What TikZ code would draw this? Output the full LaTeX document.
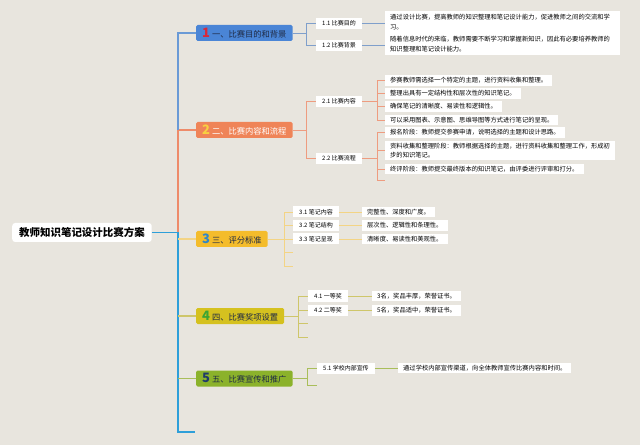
\documentclass[tikz,border=0pt]{standalone}
\usepackage{fontspec}
\setmainfont{Noto Sans CJK SC}
\usetikzlibrary{positioning}
\definecolor{bgpaper}{HTML}{E8E5DE}
\definecolor{boxA}{HTML}{4A85D6}
\definecolor{boxB}{HTML}{EF8458}
\definecolor{boxC}{HTML}{F4BC2B}
\definecolor{boxD}{HTML}{D5C11F}
\definecolor{boxE}{HTML}{8BB22B}
\definecolor{lineA}{HTML}{7F9FCB}
\definecolor{lineB}{HTML}{EE9C80}
\definecolor{lineC}{HTML}{F3D485}
\definecolor{lineD}{HTML}{CEC66A}
\definecolor{lineE}{HTML}{A9BE5A}
\definecolor{trunkA}{HTML}{6A9AD6}
\definecolor{trunkB}{HTML}{EE8B6A}
\definecolor{trunkC}{HTML}{2E9FD9}
\definecolor{numA}{HTML}{D8283A}
\definecolor{numB}{HTML}{F8D040}
\definecolor{numC}{HTML}{2E86C8}
\definecolor{numD}{HTML}{3BA534}
\definecolor{numE}{HTML}{1F3A6A}
\definecolor{darktext}{HTML}{1F2A44}

\begin{document}
\begin{tikzpicture}[x=1bp, y=-1bp,
  every node/.style={inner sep=0pt},
  root/.style={fill=white, rounded corners=3bp, anchor=west, minimum height=19bp,
    inner xsep=7bp, font=\bfseries\fontsize{10.5}{12}\selectfont},
  topic/.style={rounded corners=1.5bp, anchor=west, minimum height=16bp,
    inner xsep=6bp, font=\fontsize{8.3}{9}\selectfont, text=darktext},
  sub/.style={fill=white, anchor=west, minimum height=11bp, inner xsep=6bp,
    font=\fontsize{6}{7}\selectfont},
  leaf/.style={fill=white, anchor=west, align=left, minimum height=10.5bp,
    inner xsep=5bp, inner ysep=1.5bp, font=\fontsize{6.3}{9.5}\selectfont},
  trunk/.style={line width=1.6bp},
  twig/.style={line width=0.7bp}]
  \useasboundingbox[fill=bgpaper] (0,0) rectangle (640,445);

  % root and trunk
  \node[root] (root) at (12,232.5) {教师知识笔记设计比赛方案};
  \coordinate (j)  at (178,232.5);
  \coordinate (j2) at (178,130);
  \coordinate (jb) at (178,432);
  \coordinate (tail) at (195,432);

  % main topics
  \node[topic, fill=boxA] (t1) at (196,33)
    {\textcolor{numA}{\bfseries\fontsize{13}{13}\selectfont 1}\hspace{2bp}一、比赛目的和背景};
  \node[topic, fill=boxB, text=white] (t2) at (196,130)
    {\textcolor{numB}{\bfseries\fontsize{13}{13}\selectfont 2}\hspace{2bp}二、比赛内容和流程};
  \node[topic, fill=boxC] (t3) at (196,239)
    {\textcolor{numC}{\bfseries\fontsize{13}{13}\selectfont 3}\hspace{2bp}三、评分标准};
  \node[topic, fill=boxD] (t4) at (196,316)
    {\textcolor{numD}{\bfseries\fontsize{13}{13}\selectfont 4}\hspace{2bp}四、比赛奖项设置};
  \node[topic, fill=boxE] (t5) at (196,378.5)
    {\textcolor{numE}{\bfseries\fontsize{13}{13}\selectfont 5}\hspace{2bp}五、比赛宣传和推广};

  \draw[trunk, trunkC] (root.east) -- (j) -- (jb) -- (tail);
  \draw[trunk, trunkB] (j) -- (j2) -- (t2.west);
  \draw[trunk, trunkA] (j2) |- (t1.west);
  \draw[trunk, lineC] (j |- t3.west) -- (t3.west);
  \draw[trunk, lineD] (j |- t4.west) -- (t4.west);
  \draw[trunk, lineE] (j |- t5.west) -- (t5.west);

  % 1
  \node[sub] (s11) at (316,23.5) {1.1 比赛目的};
  \node[sub] (s12) at (316,45.5) {1.2 比赛背景};
  \node[leaf, text width=225bp, minimum height=22bp] (l11) at (385,22)
    {通过设计比赛，提高教师的知识整理和笔记设计能力，促进教师之间的交流和学\\习。};
  \node[leaf, text width=225bp, minimum height=22bp] (l12) at (385,44)
    {随着信息时代的来临，教师需要不断学习和掌握新知识，因此有必要培养教师的\\知识整理和笔记设计能力。};
  \coordinate (f1) at (306,33);
  \draw[twig, lineA] (t1.east) -- (f1) |- (s11.west) (f1) |- (s12.west);
  \draw[twig, lineA] (s11.east) -- (s11.east -| l11.west)
                     (s12.east) -- (s12.east -| l12.west);

  % 2
  \node[sub] (s21) at (316,101.5) {2.1 比赛内容};
  \node[sub] (s22) at (316,158.5) {2.2 比赛流程};
  \node[leaf] (l2a) at (385,80.5) {参赛教师需选择一个特定的主题，进行资料收集和整理。};
  \node[leaf] (l2b) at (385,93.5) {整理出具有一定结构性和层次性的知识笔记。};
  \node[leaf] (l2c) at (385,106.5) {确保笔记的清晰度、易读性和逻辑性。};
  \node[leaf] (l2d) at (385,120) {可以采用图表、示意图、思维导图等方式进行笔记的呈现。};
  \node[leaf] (l2e) at (385,132.5) {报名阶段：教师提交参赛申请，说明选择的主题和设计思路。};
  \node[leaf] (l2f) at (385,150.5)
    {资料收集和整理阶段：教师根据选择的主题，进行资料收集和整理工作，形成初\\步的知识笔记。};
  \node[leaf] (l2g) at (385,169) {终评阶段：教师提交最终版本的知识笔记，由评委进行评审和打分。};
  \coordinate (f2) at (306,130);
  \coordinate (f21) at (377,101.5);
  \coordinate (f22) at (377,158.5);
  \coordinate (x21) at (385,180);
  \draw[twig, lineB] (t2.east) -- (f2) |- (s21.west) (f2) |- (s22.west);
  \draw[twig, lineB] (s21.east) -- (f21) (s22.east) -- (f22);
  \foreach \n in {a,b,c,d} \draw[twig, lineB] (f21) |- (l2\n.west);
  \foreach \n in {e,f,g} \draw[twig, lineB] (f22) |- (l2\n.west);
  \draw[twig, lineB] (f22) |- (x21);

  % 3
  \node[sub] (s31) at (293,212) {3.1 笔记内容};
  \node[sub] (s32) at (293,225.5) {3.2 笔记结构};
  \node[sub] (s33) at (293,239) {3.3 笔记呈现};
  \node[leaf] (l31) at (362,212) {完整性、深度和广度。};
  \node[leaf] (l32) at (362,225.5) {层次性、逻辑性和条理性。};
  \node[leaf] (l33) at (362,239) {清晰度、易读性和美观性。};
  \coordinate (f3) at (284,239);
  \coordinate (x31) at (293,252.5);
  \coordinate (x32) at (293,266);
  \draw[twig, lineC] (t3.east) -- (f3);
  \foreach \n in {s31.west,s32.west,s33.west,x31,x32} \draw[twig, lineC] (f3) |- (\n);
  \foreach \n in {1,2,3} \draw[twig, lineC] (s3\n.east) -- (l3\n.west);

  % 4
  \node[sub] (s41) at (308,296) {4.1 一等奖};
  \node[sub] (s42) at (308,310.5) {4.2 二等奖};
  \node[leaf] (l41) at (372,296) {3名，奖品丰厚，荣誉证书。};
  \node[leaf] (l42) at (372,310.5) {5名，奖品适中，荣誉证书。};
  \coordinate (f4) at (298,316);
  \coordinate (x41) at (308,323);
  \coordinate (x42) at (308,337);
  \draw[twig, lineD] (t4.east) -- (f4);
  \foreach \n in {s41.west,s42.west,x41,x42} \draw[twig, lineD] (f4) |- (\n);
  \foreach \n in {1,2} \draw[twig, lineD] (s4\n.east) -- (l4\n.west);

  % 5
  \node[sub] (s51) at (317,368) {5.1 学校内部宣传};
  \node[leaf] (l51) at (398,368) {通过学校内部宣传渠道，向全体教师宣传比赛内容和时间。};
  \coordinate (f5) at (307,378.5);
  \coordinate (x51) at (317,385);
  \draw[twig, lineE] (t5.east) -- (f5) |- (s51.west) (f5) |- (x51);
  \draw[twig, lineE] (s51.east) -- (l51.west);
\end{tikzpicture}
\end{document}
